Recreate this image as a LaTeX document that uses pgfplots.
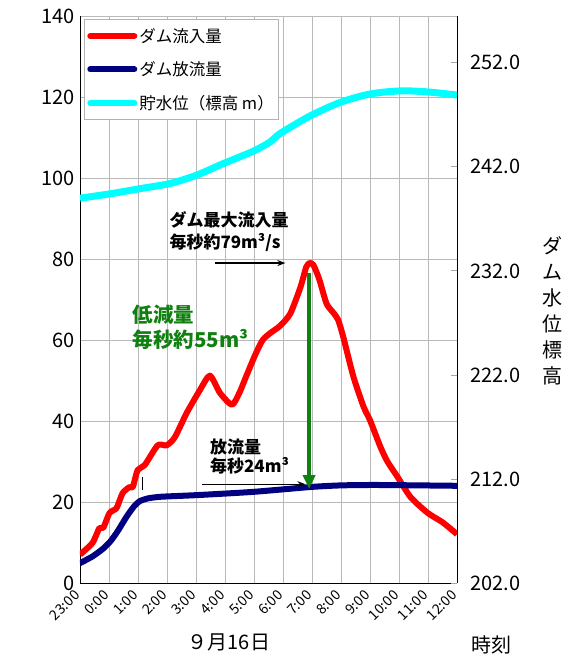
\documentclass[border=0pt]{standalone}
\usepackage{fontspec}
\setmainfont{Noto Sans CJK JP}
\usepackage{pgfplots}
\pgfplotsset{compat=1.18}
\usetikzlibrary{arrows.meta}
\definecolor{infl}{RGB}{255,0,0}
\definecolor{outf}{RGB}{0,0,128}
\definecolor{lvl}{RGB}{0,255,255}
\definecolor{grn}{RGB}{16,128,16}
\begin{document}
\begin{tikzpicture}
\path[use as bounding box] (-80pt,-74pt) rectangle (486pt,583pt);
\begin{axis}[
  at={(0pt,0pt)}, anchor=south west,
  scale only axis, width=377pt, height=567pt,
  xmin=0, xmax=13, ymin=0, ymax=140,
  xtick={0,1,...,13},
  xticklabels={23:00,0:00,1:00,2:00,3:00,4:00,5:00,6:00,7:00,8:00,9:00,10:00,11:00,12:00},
  ytick={0,20,...,140},
  axis y line*=left,
  axis x line*=bottom,
  tick style={draw=none},
  grid=major,
  major grid style={gray!55, line width=0.6pt},
  axis line style={black, line width=0.8pt},
  /pgf/number format/assume math mode=true,
  yticklabel style={font=\fontsize{20}{20}\selectfont, xshift=-2pt},
  xticklabel style={font=\fontsize{14}{14}\selectfont, yshift=-9pt, xshift=-2pt, rotate=45, anchor=east, inner sep=1pt},
  legend style={at={(rel axis cs:0.0106,0.995)}, anchor=north west,
    draw=gray!60, line width=0.6pt, font=\fontsize{16.5}{16.5}\selectfont,
    row sep=14pt, inner xsep=3pt, inner ysep=7pt},
  legend cell align=left,
  legend image code/.code={\draw[#1, line width=6pt, line cap=round] (0pt,0pt) -- (44pt,0pt);},
]
\addplot[infl, line width=6pt, smooth, tension=0.4, line join=round] coordinates {
(0,7) (0.43,9.9) (0.67,13.6) (0.8,13.6) (1.02,17.3) (1.26,18.5) (1.47,22.2) (1.71,23.7) (1.82,23.7) (1.99,27.9) (2.23,29.1) (2.68,34) (2.99,34) (3.27,36) (3.68,42) (4.14,47.7) (4.48,51.2) (4.83,46.9) (5.24,44) (5.5,47) (5.7,50.5) (6.04,56.3) (6.3,60) (6.56,61.7) (6.9,63.5) (7.25,66.5) (7.6,73) (7.8,78) (7.92,79) (8.05,78.5) (8.25,75) (8.5,69) (8.74,66.7) (8.9,65) (9.08,60.7) (9.43,50.9) (9.78,43.5) (10.0,40.2) (10.36,33.6) (10.6,30) (10.95,26.2) (11.4,21.2) (11.99,17.3) (12.5,15) (12.96,12.3) (13,12)
};
\addlegendentry{ダム流入量}
\addplot[outf, line width=6pt, smooth, tension=0.4] coordinates {
(0,4.9) (0.44,6.6) (0.8,8.5) (1.05,10.3) (1.3,12.8) (1.6,16.3) (1.85,18.8) (2.06,20.2) (2.35,20.9) (2.8,21.3) (4.03,21.7) (5.97,22.5) (7.94,23.7) (9,24.1) (10.25,24.2) (13,24.0)
};
\addlegendentry{ダム放流量}
\addlegendimage{lvl}
\addlegendentry{貯水位（標高 m）}
% annotations
\node[anchor=north west, font=\bfseries\fontsize{17}{22}\selectfont, align=left, inner sep=0pt] at (axis cs:3.08,91.8) {ダム最大流入量\\毎秒約79m³/s};
\draw[-{Stealth[length=8pt,width=6pt]}, line width=1.2pt] (axis cs:4.65,79) -- (axis cs:7.08,79);
\node[anchor=north west, font=\bfseries\fontsize{20.5}{25}\selectfont, align=left, inner sep=0pt, text=grn] at (axis cs:1.82,68.6) {低減量\\毎秒約55m³};
\node[anchor=north west, font=\bfseries\fontsize{17}{19.5}\selectfont, align=left, inner sep=0pt] at (axis cs:4.48,35.7) {放流量\\毎秒24m³};
\draw[-{Stealth[length=8pt,width=6pt]}, line width=1.2pt] (axis cs:4.2,24.4) -- (axis cs:7.77,24.4);
\draw[-{Triangle[length=14pt,width=12pt]}, grn, line width=4pt] (axis cs:7.9,76.5) -- (axis cs:7.9,23.2);
\draw[black, line width=1.5pt] (axis cs:2.16,26.2) -- (axis cs:2.16,23.0);
\end{axis}
\begin{axis}[
  at={(0pt,0pt)}, anchor=south west,
  scale only axis, width=377pt, height=567pt,
  xmin=0, xmax=13, ymin=202, ymax=256.5,
  axis x line=none,
  axis y line*=right,
  ytick={202,212,...,252},
  tick align=inside,
  major tick length=6pt,
  tick style={gray!70, line width=0.8pt},
  axis line style={black, line width=0.8pt},
  /pgf/number format/assume math mode=true,
  yticklabel style={font=\fontsize{20}{20}\selectfont, /pgf/number format/fixed, /pgf/number format/fixed zerofill, /pgf/number format/precision=1, xshift=10pt},
]
\addplot[lvl, line width=7pt, smooth, tension=0.5] coordinates {
(0,238.99) (1.02,239.4) (2.06,239.9) (3.1,240.4) (4.02,241.2) (4.93,242.3) (5.97,243.5) (6.56,244.4) (6.9,245.2) (7.94,246.9) (8.98,248.2) (10.0,249.0) (11.05,249.3) (12.0,249.2) (13,248.9)
};
\end{axis}
\node[align=center, font=\fontsize{20}{26}\selectfont, inner sep=0pt] at (472pt,272pt) {ダ\\ム\\水\\位\\標\\高};
\node[font=\fontsize{20}{20}\selectfont, inner sep=0pt] at (149pt,-59pt) {９月16日};
\node[font=\fontsize{20}{20}\selectfont, inner sep=0pt] at (411pt,-62pt) {時刻};
\end{tikzpicture}
\end{document}
